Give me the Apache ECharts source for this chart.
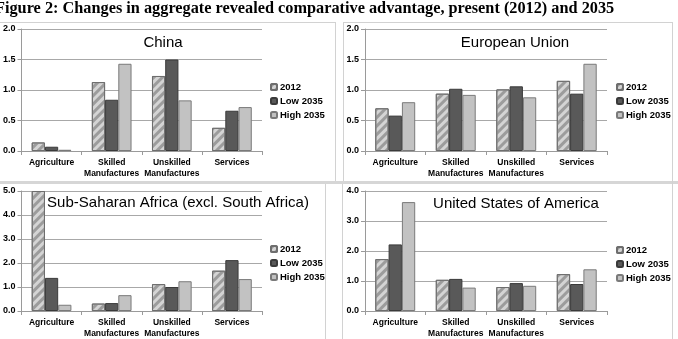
<!DOCTYPE html>
<html>
<head>
<meta charset="utf-8">
<script src="https://cdn.jsdelivr.net/npm/echarts@6/dist/echarts.min.js"></script>
<style>
  html, body { margin: 0; padding: 0; background: #fff; }
  #main { width: 678px; height: 339px; }
</style>
</head>
<body>
<div id="main"></div>
<script>
// categories & series
var categories = ['Agriculture', 'Skilled\nManufactures', 'Unskilled\nManufactures', 'Services'];
var seriesNames = ['2012', 'Low 2035', 'High 2035'];

// China
var china2012 = [0.14, 1.13, 1.23, 0.38];
var chinaLow = [0.07, 0.84, 1.50, 0.66];
var chinaHigh = [0.02, 1.43, 0.83, 0.72];
// European Union
var eu2012 = [0.70, 0.94, 1.01, 1.15];
var euLow = [0.58, 1.02, 1.06, 0.94];
var euHigh = [0.80, 0.92, 0.88, 1.43];
// Sub-Saharan Africa
var ssa2012 = [5.00, 0.31, 1.12, 1.68];
var ssaLow = [1.38, 0.33, 1.00, 2.12];
var ssaHigh = [0.26, 0.66, 1.24, 1.33];
// USA
var usa2012 = [1.73, 1.04, 0.80, 1.23];
var usaLow = [2.22, 1.07, 0.93, 0.90];
var usaHigh = [3.63, 0.78, 0.84, 1.39];

var panelTitles = ['China', 'European Union', 'Sub-Saharan Africa (excl. South Africa)', 'United States of America'];
var yMax = [2, 2, 5, 4];
var yStep = [0.5, 0.5, 1, 1];

var chart = echarts.init(document.getElementById('main'));

var grids = [
  {left: 19, top: 29, width: 243, height: 122},
  {left: 365, top: 29, width: 242, height: 122},
  {left: 19, top: 191, width: 243, height: 122},
  {left: 365, top: 191, width: 242, height: 122}
];
var titlePos = [[163, 35], [515, 35], [178, 195], [516, 196]];
var legendPos = [[270, 82], [616, 82], [270, 244], [616, 245]];
var panelData = [
  [china2012, chinaLow, chinaHigh],
  [eu2012, euLow, euHigh],
  [ssa2012, ssaLow, ssaHigh],
  [usa2012, usaLow, usaHigh]
];

var sans = 'Liberation Sans, Arial, sans-serif';
var styles = [
  {color: '#d4d4d4', borderColor: '#6e6e6e', borderWidth: 1,
   decal: {symbol: 'rect', symbolSize: 1, dashArrayX: [1, 0], dashArrayY: [3, 3], rotation: -Math.PI / 4, color: '#9c9c9c'}},
  {color: '#595959', borderColor: '#3a3a3a', borderWidth: 1},
  {color: '#c2c2c2', borderColor: '#7a7a7a', borderWidth: 1}
];

var titles = [{
  text: 'Figure 2: Changes in aggregate revealed comparative advantage, present (2012) and 2035',
  left: -5, top: 1, padding: 0,
  textStyle: {fontFamily: 'Liberation Serif, Times New Roman, serif', fontWeight: 'bold', fontSize: 16.3, color: '#000'}
}];
var xAxes = [], yAxes = [], legends = [], series = [];

for (var p = 0; p < 4; p++) {
  titles.push({
    text: panelTitles[p], left: titlePos[p][0], top: titlePos[p][1], textAlign: 'center', padding: 0,
    textStyle: {fontFamily: sans, fontWeight: 'normal', fontSize: 15, color: '#000'}
  });
  xAxes.push({
    type: 'category', gridIndex: p, data: categories,
    axisLine: {lineStyle: {color: '#9a9a9a'}},
    axisTick: {show: true, length: 4, lineStyle: {color: '#9a9a9a'}},
    axisLabel: {interval: 0, margin: 6, fontFamily: sans, fontWeight: 'bold', fontSize: 8.5, lineHeight: 11, color: '#000'}
  });
  yAxes.push({
    type: 'value', gridIndex: p, min: 0, max: yMax[p], interval: yStep[p],
    axisLine: {show: true, lineStyle: {color: '#9a9a9a'}},
    axisTick: {show: true, length: 4, lineStyle: {color: '#9a9a9a'}},
    splitLine: {lineStyle: {color: '#a8a8a8'}},
    axisLabel: {margin: 6, fontFamily: sans, fontWeight: 'bold', fontSize: 9, color: '#000',
      formatter: function (v) { return v.toFixed(1); }}
  });
  legends.push({
    orient: 'vertical', left: legendPos[p][0], top: legendPos[p][1], padding: 0,
    itemWidth: 6, itemHeight: 6, itemGap: 4,
    data: seriesNames.slice(),
    selectedMode: false,
    textStyle: {fontFamily: sans, fontWeight: 'bold', fontSize: 9.5, lineHeight: 10, color: '#000', padding: [0, 0, 0, -2]}
  });
  for (var s = 0; s < 3; s++) {
    series.push({
      name: seriesNames[s], type: 'bar', xAxisIndex: p, yAxisIndex: p,
      data: panelData[p][s], barGap: '0%', barCategoryGap: '34%',
      itemStyle: styles[s], animation: false
    });
  }
}

// panel frames
var frame = {stroke: '#d2d2d2', lineWidth: 1};
var graphics = [
  {type: 'rect', shape: {x: 0, y: 181, width: 678, height: 3}, style: {fill: '#d6d6d6'}},
  {type: 'line', shape: {x1: 335.5, y1: 22, x2: 335.5, y2: 181}, style: frame},
  {type: 'line', shape: {x1: 343.5, y1: 22.5, x2: 672.5, y2: 22.5}, style: frame},
  {type: 'line', shape: {x1: 343.5, y1: 22, x2: 343.5, y2: 181}, style: frame},
  {type: 'line', shape: {x1: 672.5, y1: 22, x2: 672.5, y2: 339}, style: frame},
  {type: 'line', shape: {x1: 0, y1: 22.5, x2: 335, y2: 22.5}, style: frame},
  {type: 'line', shape: {x1: 325.5, y1: 184, x2: 325.5, y2: 339}, style: frame},
  {type: 'line', shape: {x1: 342.5, y1: 184, x2: 342.5, y2: 339}, style: frame}
];

chart.setOption({
  backgroundColor: '#fff',
  animation: false,
  title: titles,
  grid: grids,
  xAxis: xAxes,
  yAxis: yAxes,
  legend: legends,
  series: series,
  graphic: graphics
});
</script>
</body>
</html>
